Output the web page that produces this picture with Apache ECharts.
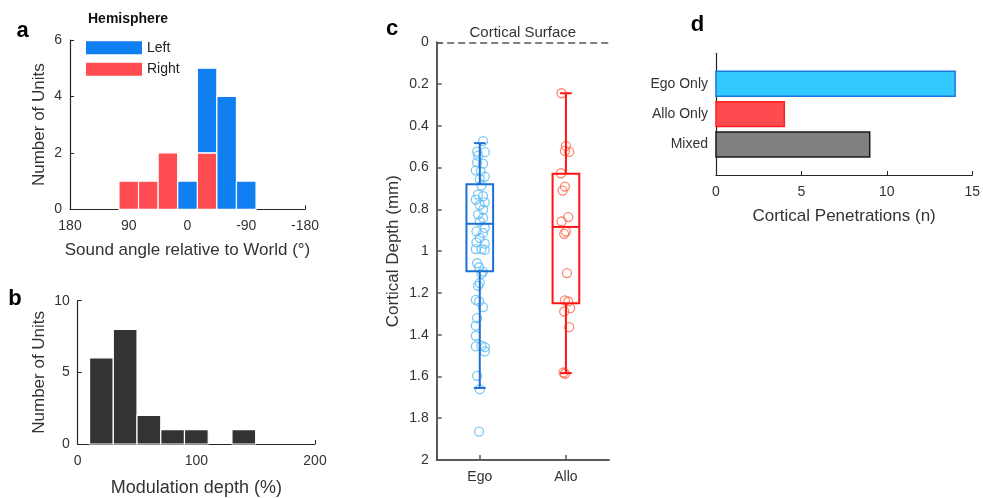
<!DOCTYPE html>
<html><head><meta charset="utf-8">
<script src="https://cdn.jsdelivr.net/npm/echarts@6/dist/echarts.min.js"></script>
<style>html,body{margin:0;padding:0;background:#fff}#c{width:983px;height:498px}</style>
</head><body><div id="c"></div>
<script>
// ---------- Panel a: histogram of preferred sound angle ----------
const aBinCenters = [90, 60, 30, 0, -30, -60, -90];
const aBinWidth = 30;
const aRight = [1, 1, 2, 0, 2, 0, 0];
const aLeft = [0, 0, 0, 1, 3, 4, 1];
const aSeriesNames = ['Left', 'Right'];
// ---------- Panel b: modulation depth histogram ----------
const bBinStarts = [10, 30, 50, 70, 90, 110, 130];
const bBinWidth = 20;
const bCounts = [6, 8, 2, 1, 1, 0, 1];
// ---------- Panel c: cortical depth ----------
const cCategories = ['Ego', 'Allo'];
const egoDepth = [0.473,0.523,0.526,0.543,0.575,0.581,0.613,0.618,0.643,0.655,0.686,0.729,0.737,0.753,0.766,0.779,0.801,0.825,0.841,0.857,0.889,0.905,0.913,0.937,0.958,0.964,0.990,0.990,0.994,1.058,1.077,1.098,1.109,1.153,1.166,1.233,1.241,1.268,1.321,1.357,1.405,1.456,1.453,1.46,1.48,1.597,1.661,1.864];
const egoJitter = [0.038,-0.031,0.058,-0.020,-0.031,0.038,-0.046,0.012,0.058,0,0.020,-0.020,0.038,-0.046,0.058,0,0.038,-0.020,0.038,0,0.058,-0.038,0.038,0,-0.038,0.058,-0.046,0.020,0.058,-0.031,-0.008,0.038,0.020,0,-0.020,-0.046,-0.008,0.038,-0.031,-0.046,-0.046,-0.046,0.020,0.058,0.058,-0.031,0,-0.008];
const alloDepth = [0.244,0.496,0.520,0.525,0.627,0.691,0.710,0.837,0.858,0.906,0.917,1.105,1.236,1.241,1.273,1.289,1.364,1.581,1.587];
const alloJitter = [-0.051,0,-0.012,0.038,-0.058,-0.012,-0.039,0.027,-0.051,0,-0.020,0.012,-0.012,0.027,0.050,-0.020,0.038,-0.028,-0.012];
// box stats: [lower whisker, Q1, median, Q3, upper whisker]
const egoBox = [0.483, 0.680, 0.869, 1.096, 1.655];
const alloBox = [0.244, 0.629, 0.884, 1.249, 1.584];
// ---------- Panel d: penetrations ----------
const dCategories = ['Ego Only', 'Allo Only', 'Mixed'];
const dValues = [14, 4, 9];

const FONT = '"Liberation Sans", Arial, sans-serif';
const TXT = '#333333';
const AX = '#262626';
const BLUE = '#0f7ff2', RED = '#ff4d52';

function valAxis(o) {
  return Object.assign({
    type: 'value',
    splitLine: { show: false },
    axisLine: { show: true, onZero: false, lineStyle: { color: AX, width: 1.2 } },
    axisTick: { show: true, inside: true, length: 4, lineStyle: { color: AX } },
    axisLabel: { color: TXT, fontSize: 14, fontFamily: FONT, margin: 8 },
    nameLocation: 'middle',
    nameTextStyle: { color: TXT, fontSize: 17, fontFamily: FONT }
  }, o);
}

function histRect(params, api, color) {
  const c = api.value(0), lo = api.value(1), hi = api.value(2), w = api.value(3);
  const p0 = api.coord([c - w / 2, lo]);
  const p1 = api.coord([c + w / 2, hi]);
  return {
    type: 'rect',
    shape: { x: Math.min(p0[0], p1[0]), y: Math.min(p0[1], p1[1]), width: Math.abs(p1[0] - p0[0]), height: Math.abs(p1[1] - p0[1]) },
    style: { fill: color, stroke: '#ffffff', lineWidth: 1.2 }
  };
}

const leftData = aBinCenters.map((c, i) => [c, aRight[i], aRight[i] + aLeft[i], aBinWidth]).filter(r => r[2] > r[1]);
const rightData = aBinCenters.map((c, i) => [c, 0, aRight[i], aBinWidth]).filter(r => r[2] > r[1]);
const bData = bBinStarts.map((s, i) => [s + bBinWidth / 2, 0, bCounts[i], bBinWidth]).filter(r => r[2] > 0);

const boxColors = ['#1c6fd4', '#ff1414'];
const boxData = [[0].concat(egoBox), [1].concat(alloBox)];

const dFill = ['#33c9ff', '#ff4a4f', '#808080'];
const dStroke = ['#1a78e0', '#ff2020', '#1a1a1a'];

const option = {
  animation: false,
  backgroundColor: '#ffffff',
  textStyle: { fontFamily: FONT },
  grid: [
    { left: 70, top: 40, width: 235, height: 169.3 },
    { left: 77.7, top: 300.7, width: 237.3, height: 149.3 },
    { left: 436.7, top: 42.3, width: 172.3, height: 417.7 },
    { left: 716, top: 53.3, width: 258.3, height: 121.7 }
  ],
  legend: {
    data: aSeriesNames, left: 86, top: 40.7, padding: 0, orient: 'vertical',
    icon: 'rect', itemWidth: 56, itemHeight: 13, itemGap: 7.5,
    textStyle: { fontSize: 14, color: '#222', fontFamily: FONT }, selectedMode: false
  },
  xAxis: [
    valAxis({ gridIndex: 0, min: -180, max: 180, interval: 90, inverse: true,
      name: 'Sound angle relative to World (°)', nameGap: 33, axisLabel: { color: TXT, fontSize: 14, fontFamily: FONT, margin: 10 } }),
    valAxis({ gridIndex: 1, min: 0, max: 200, interval: 100,
      name: 'Modulation depth (%)', nameGap: 35, nameTextStyle: { color: TXT, fontSize: 18, fontFamily: FONT },
      axisLabel: { color: TXT, fontSize: 14, fontFamily: FONT, margin: 10 } }),
    { type: 'category', gridIndex: 2, data: cCategories, boundaryGap: true, position: 'bottom',
      axisLine: { onZero: false, lineStyle: { color: '#5a5a5a', width: 2 } },
      axisTick: { show: true, inside: true, alignWithLabel: true, length: 5, lineStyle: { color: '#5a5a5a', width: 1.5 } },
      axisLabel: { color: TXT, fontSize: 14, fontFamily: FONT, margin: 10 } },
    { type: 'value', gridIndex: 2, min: -0.5, max: 1.5, position: 'top',
      splitLine: { show: false }, axisTick: { show: false }, axisLabel: { show: false },
      axisLine: { show: true, onZero: false, lineStyle: { color: '#555', width: 1.5, type: [6, 5] } },
      name: 'Cortical Surface', nameLocation: 'middle', nameGap: 2,
      nameTextStyle: { color: TXT, fontSize: 15, fontFamily: FONT } },
    valAxis({ gridIndex: 3, min: 0, max: 15, interval: 5, position: 'bottom',
      name: 'Cortical Penetrations (n)', nameGap: 33, axisLabel: { color: TXT, fontSize: 14, fontFamily: FONT, margin: 10 } })
  ],
  yAxis: [
    valAxis({ gridIndex: 0, min: 0, max: 6, interval: 2, name: 'Number of Units', nameGap: 22 }),
    valAxis({ gridIndex: 1, min: 0, max: 10, interval: 5, name: 'Number of Units', nameGap: 30 }),
    valAxis({ gridIndex: 2, min: 0, max: 2, interval: 0.2, inverse: true, position: 'left',
      axisLine: { show: true, onZero: false, lineStyle: { color: '#5a5a5a', width: 2 } },
      axisTick: { show: true, inside: true, length: 5, lineStyle: { color: '#5a5a5a', width: 1.5 } },
      name: 'Cortical Depth (mm)', nameGap: 35 }),
    valAxis({ gridIndex: 3, min: 0, max: 4, interval: 1, inverse: true, position: 'left',
      axisTick: { show: false },
      axisLabel: { color: TXT, fontSize: 14, fontFamily: FONT, margin: 8,
        formatter: v => (v >= 1 && v <= dCategories.length) ? dCategories[v - 1] : '' } })
  ],
  series: [
    { name: 'Right', type: 'custom', xAxisIndex: 0, yAxisIndex: 0, itemStyle: { color: RED },
      renderItem: (p, api) => histRect(p, api, RED), data: rightData },
    { name: 'Left', type: 'custom', xAxisIndex: 0, yAxisIndex: 0, itemStyle: { color: BLUE },
      renderItem: (p, api) => histRect(p, api, BLUE), data: leftData },
    { name: 'b', type: 'custom', xAxisIndex: 1, yAxisIndex: 1,
      renderItem: (p, api) => histRect(p, api, '#333333'), data: bData },
    { name: 'egoPts', type: 'scatter', xAxisIndex: 3, yAxisIndex: 2, symbol: 'circle', symbolSize: 9,
      itemStyle: { color: 'rgba(0,0,0,0)', borderColor: '#5cbcf2', borderWidth: 1.3 },
      data: egoDepth.map((d, i) => [0 + egoJitter[i], d]) },
    { name: 'alloPts', type: 'scatter', xAxisIndex: 3, yAxisIndex: 2, symbol: 'circle', symbolSize: 9,
      itemStyle: { color: 'rgba(0,0,0,0)', borderColor: '#ff6a4d', borderWidth: 1.3 },
      data: alloDepth.map((d, i) => [1 + alloJitter[i], d]) },
    { name: 'box', type: 'custom', xAxisIndex: 3, yAxisIndex: 2, z: 5,
      renderItem: (params, api) => {
        const x = api.value(0), mn = api.value(1), q1 = api.value(2), md = api.value(3), q3 = api.value(4), mx = api.value(5);
        const hw = 0.155, cw = 0.068;
        const col = boxColors[params.dataIndex];
        const st = { stroke: col, lineWidth: 2, fill: null };
        const a = api.coord([x - hw, q1]), b = api.coord([x + hw, q3]);
        const line = (x1, y1, x2, y2) => {
          const p = api.coord([x1, y1]), q = api.coord([x2, y2]);
          return { type: 'line', shape: { x1: p[0], y1: p[1], x2: q[0], y2: q[1] }, style: st };
        };
        return { type: 'group', children: [
          { type: 'rect', shape: { x: a[0], y: a[1], width: b[0] - a[0], height: b[1] - a[1] }, style: st },
          line(x - hw, md, x + hw, md),
          line(x, q1, x, mn), line(x, q3, x, mx),
          line(x - cw, mn, x + cw, mn), line(x - cw, mx, x + cw, mx)
        ] };
      },
      data: boxData },
    { name: 'd', type: 'custom', xAxisIndex: 4, yAxisIndex: 3,
      renderItem: (params, api) => {
        const i = params.dataIndex;
        const y = api.value(0), v = api.value(1);
        const p0 = api.coord([0, y - 0.41]), p1 = api.coord([v, y + 0.41]);
        return { type: 'rect',
          shape: { x: p0[0], y: Math.min(p0[1], p1[1]), width: p1[0] - p0[0], height: Math.abs(p1[1] - p0[1]) },
          style: { fill: dFill[i], stroke: dStroke[i], lineWidth: 1.5 } };
      },
      data: dValues.map((v, i) => [i + 1, v]) }
  ],
  graphic: [
    { type: 'text', left: 88, top: 12, style: { text: 'Hemisphere', font: 'bold 14px ' + FONT, fill: '#111' } },
    { type: 'text', x: 22.5, y: 30.5, style: { text: 'a', font: 'bold 22px ' + FONT, fill: '#000', textAlign: 'center', textVerticalAlign: 'middle' } },
    { type: 'text', x: 15, y: 299, style: { text: 'b', font: 'bold 22px ' + FONT, fill: '#000', textAlign: 'center', textVerticalAlign: 'middle' } },
    { type: 'text', x: 392, y: 29, style: { text: 'c', font: 'bold 22px ' + FONT, fill: '#000', textAlign: 'center', textVerticalAlign: 'middle' } },
    { type: 'text', x: 697.5, y: 25, style: { text: 'd', font: 'bold 22px ' + FONT, fill: '#000', textAlign: 'center', textVerticalAlign: 'middle' } }
  ]
};

const chart = echarts.init(document.getElementById('c'), null, { renderer: 'canvas' });
chart.setOption(option);
</script>
</body></html>
